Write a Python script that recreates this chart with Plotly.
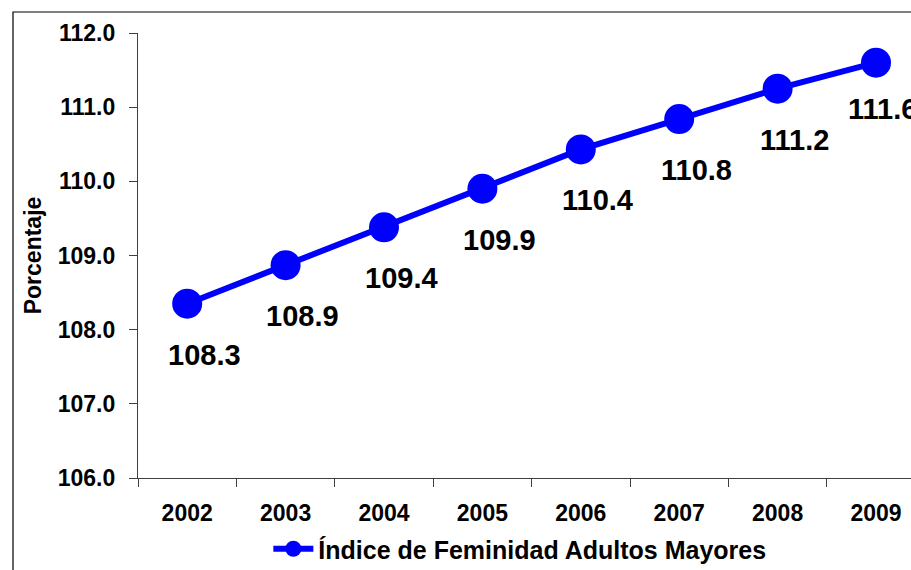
import plotly.graph_objects as go

years = ["2002", "2003", "2004", "2005", "2006", "2007", "2008", "2009"]
values = [108.35, 108.87, 109.38, 109.90, 110.43, 110.84, 111.25, 111.60]
labels = ["108.3", "108.9", "109.4", "109.9", "110.4", "110.8", "111.2", "111.6"]
series_name = "Índice de Feminidad Adultos Mayores"
y_title = "Porcentaje"

W, H = 911, 570
ml, mr, mt, mb = 138, 0, 33, 92
pw, ph = W - ml - mr, H - mt - mb

FONT = "Liberation Sans, Arial, sans-serif"

fig = go.Figure()
fig.add_trace(go.Scatter(
    x=years, y=values, mode="lines+markers", name=series_name,
    line=dict(color="#0000FF", width=6),
    marker=dict(color="#0000FF", size=30),
))

last = len(values) - 1
for i, (v, t) in enumerate(zip(values, labels)):
    fig.add_annotation(x=i, y=v, xref="x", yref="y", text=t, showarrow=False,
                       xshift=6 if i == last else 17, yshift=-46 if i == last else -51,
                       font=dict(family=FONT, size=29, color="black", weight="bold"))

# chart border
fig.add_shape(type="rect", xref="paper", yref="paper",
              x0=(13 - ml) / pw, x1=1.1, y0=-0.5, y1=(H - 12 - mb) / ph,
              line=dict(color="black", width=1.2), fillcolor="rgba(0,0,0,0)", layer="below")

fig.update_layout(
    width=W, height=H,
    margin=dict(l=ml, r=mr, t=mt, b=mb, autoexpand=False),
    paper_bgcolor="white", plot_bgcolor="white",
    font=dict(family=FONT, color="black"),
    showlegend=True,
    legend=dict(orientation="h", x=0.494, y=(478 - 549) / ph, xanchor="center", yanchor="middle",
                font=dict(family=FONT, size=25, color="black", weight="bold"),
                bgcolor="rgba(0,0,0,0)", itemwidth=40),
    xaxis=dict(
        type="category", range=[-0.5, -0.5 + pw / 98.4],
        tickson="boundaries",
        showgrid=False, zeroline=False, showline=True, linecolor="#404040", linewidth=1.2,
        ticks="outside", ticklen=8, tickcolor="#404040", tickwidth=1.2,
        tickfont=dict(family=FONT, size=23, color="black", weight="bold"),
        ticklabelstandoff=14,
    ),
    yaxis=dict(
        range=[106, 112], dtick=1, tickformat=".1f",
        showgrid=False, zeroline=False, showline=True, linecolor="#404040", linewidth=1.2,
        ticks="outside", ticklen=8, tickcolor="#404040", tickwidth=1.2,
        tickfont=dict(family=FONT, size=23, color="black", weight="bold"),
        ticklabelstandoff=9,
        title=dict(text=y_title, font=dict(family=FONT, size=23, color="black", weight="bold"), standoff=9),
    ),
)

fig.write_html("out.html", config={"displayModeBar": False},
               post_script="document.body.style.margin='0';document.body.style.overflow='hidden';")
